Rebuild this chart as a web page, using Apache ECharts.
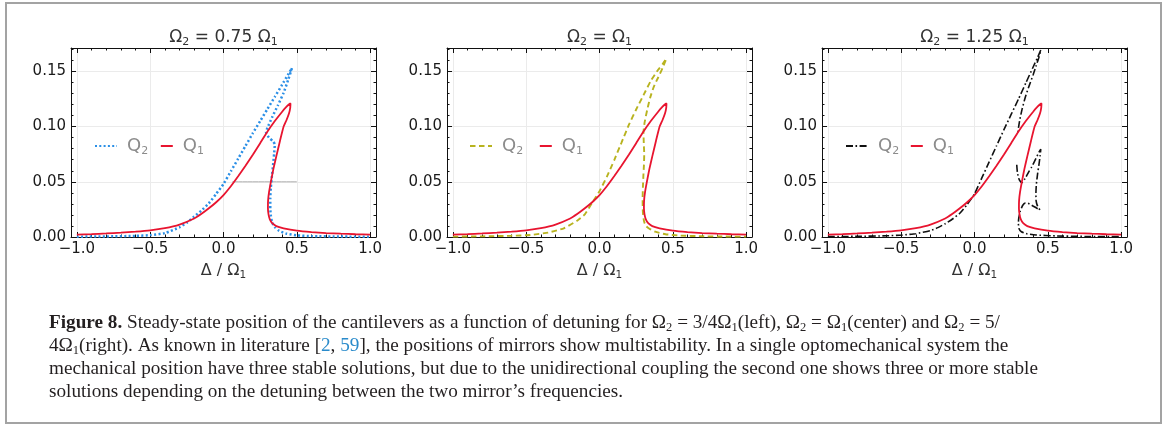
<!DOCTYPE html>
<html><head><meta charset="utf-8">
<script src="https://cdn.jsdelivr.net/npm/echarts@6/dist/echarts.min.js"></script>
<style>html,body{margin:0;padding:0;background:#fff}#c{width:1168px;height:428px}</style>
</head><body><div id="c"></div>
<script>
// ---------- data ----------
const xMajorTicks = [-1, -0.5, 0, 0.5, 1];
const xMinorTicks = [-1, -0.9, -0.8, -0.7, -0.6, -0.5, -0.4, -0.3, -0.2, -0.1, 0, 0.1, 0.2, 0.3, 0.4, 0.5, 0.6, 0.7, 0.8, 0.9, 1];
const yMajorTicks = [0, 0.05, 0.1, 0.15];
const yMinorTicks = [0, 0.01, 0.02, 0.03, 0.04, 0.05, 0.06, 0.07, 0.08, 0.09, 0.1, 0.11, 0.12, 0.13, 0.14, 0.15, 0.16, 0.17];
const panelTitles = ['Ω{s|2} = 0.75 Ω{s|1}', 'Ω{s|2} = Ω{s|1}', 'Ω{s|2} = 1.25 Ω{s|1}'];
const xAxisTitle = 'Δ / Ω{s|1}';

// Q1 (same in every panel)
const q1 = [[-1.0,0.0022],[-0.9,0.0026],[-0.8,0.0032],[-0.7,0.0039],[-0.6,0.0048],[-0.5,0.006],[-0.4,0.008],[-0.3,0.0113],[-0.2,0.0168],[-0.15,0.021],[-0.1,0.026],[-0.05,0.0315],[0.0,0.038],[0.05,0.046],[0.1,0.055],[0.15,0.0645],[0.2,0.0745],[0.25,0.085],[0.3,0.0955],[0.35,0.105],[0.4,0.1135],[0.43,0.118],[0.45,0.1205],[0.457,0.121],[0.455,0.117],[0.447,0.112],[0.43,0.106],[0.41,0.1],[0.385,0.087],[0.36,0.073],[0.34,0.0615],[0.323,0.05],[0.311,0.041],[0.304,0.033],[0.303,0.026],[0.307,0.0205],[0.316,0.016],[0.332,0.0125],[0.36,0.0098],[0.41,0.0079],[0.5,0.0058],[0.6,0.0045],[0.7,0.0036],[0.8,0.003],[0.9,0.0025],[1.0,0.0022]];

// Q2 for Ω2 = 0.75 Ω1
const q2Left = [[-1.0,0.0003],[-0.8,0.0005],[-0.6,0.001],[-0.5,0.0017],[-0.4,0.0035],[-0.3,0.0088],[-0.25,0.013],[-0.2,0.0185],[-0.15,0.024],[-0.1,0.0305],[-0.05,0.039],[0.0,0.048],[0.05,0.0595],[0.1,0.071],[0.15,0.0825],[0.2,0.094],[0.25,0.105],[0.3,0.116],[0.35,0.127],[0.4,0.138],[0.44,0.147],[0.467,0.153],[0.44,0.142],[0.41,0.1306],[0.37,0.119],[0.33,0.108],[0.3,0.099],[0.29,0.095],[0.31,0.09],[0.335,0.087],[0.35,0.084],[0.345,0.075],[0.338,0.065],[0.33,0.055],[0.323,0.045],[0.319,0.035],[0.319,0.026],[0.323,0.019],[0.332,0.013],[0.35,0.009],[0.38,0.0055],[0.43,0.003],[0.5,0.0015],[0.6,0.0008],[0.8,0.0004],[1.0,0.0002]];
const greyMarkLeft = [[0.06,0.05],[0.5,0.05]];

// Q2 for Ω2 = Ω1
const q2Center = [[-1.0,0.0003],[-0.8,0.0006],[-0.6,0.0011],[-0.47,0.0018],[-0.35,0.004],[-0.243,0.0079],[-0.15,0.015],[-0.1,0.0205],[-0.05,0.031],[0.0,0.0415],[0.05,0.0545],[0.1,0.0695],[0.15,0.0855],[0.2,0.1015],[0.25,0.1155],[0.3,0.1285],[0.35,0.1415],[0.4,0.1515],[0.43,0.1565],[0.456,0.1615],[0.43,0.153],[0.4,0.1445],[0.37,0.136],[0.345,0.126],[0.325,0.115],[0.308,0.104],[0.3,0.095],[0.302,0.085],[0.305,0.075],[0.303,0.065],[0.299,0.055],[0.296,0.045],[0.294,0.035],[0.295,0.025],[0.298,0.019],[0.305,0.0135],[0.318,0.0098],[0.34,0.0075],[0.38,0.0048],[0.45,0.0025],[0.55,0.0013],[0.7,0.0007],[0.85,0.0004],[1.0,0.0003]];

// Q2 for Ω2 = 1.25 Ω1 (two pieces)
const q2RightA = [[-1.0,0.0003],[-0.8,0.0006],[-0.6,0.0011],[-0.49,0.0018],[-0.4,0.003],[-0.3,0.0058],[-0.25,0.0085],[-0.2,0.012],[-0.15,0.0163],[-0.1,0.0215],[-0.05,0.0295],[0.0,0.039],[0.05,0.0535],[0.1,0.068],[0.15,0.0825],[0.2,0.097],[0.25,0.111],[0.3,0.125],[0.35,0.1395],[0.4,0.154],[0.43,0.1625],[0.452,0.1694],[0.44,0.163],[0.42,0.155],[0.4,0.147],[0.37,0.136],[0.345,0.126],[0.325,0.116],[0.31,0.107],[0.3,0.099],[0.297,0.094]];
const q2RightB = [[0.288,0.0655],[0.293,0.058],[0.305,0.052],[0.322,0.049],[0.345,0.053],[0.37,0.059],[0.39,0.0635],[0.415,0.07],[0.44,0.077],[0.452,0.0795],[0.448,0.074],[0.44,0.066],[0.43,0.057],[0.422,0.048],[0.419,0.04],[0.42,0.033],[0.43,0.028],[0.446,0.0245],[0.42,0.0265],[0.39,0.0288],[0.365,0.0305],[0.345,0.0307],[0.328,0.0285],[0.312,0.0235],[0.302,0.017],[0.299,0.0125],[0.304,0.0075],[0.32,0.0048],[0.36,0.0028],[0.42,0.0018],[0.55,0.001],[0.75,0.0005],[1.0,0.0003]];

// ---------- layout / style ----------
const X_MIN = -1.04, X_MAX = 1.04, Y_MIN = 0, Y_MAX = 0.1712;
const gridLefts = [71, 447, 822];
const SANS = 'DejaVu Sans';
const SERIF = 'Liberation Serif';
const CAP_SIZE = 19.2;
const RED = '#e8142f', BLUE = '#2b8fe6', OLIVE = '#b8b31f', BLACK = '#111111';
const subRich = (size, color) => ({ s: { fontSize: size, fontFamily: SANS, color: color, verticalAlign: 'bottom', lineHeight: 20 } });
const fmtMinus = v => (v < 0 ? '\u2212' : '') + Math.abs(v).toFixed(1);

const grid = [], xAxis = [], yAxis = [], series = [], legend = [];
const axisCol = '#111';

function addPanel(i) {
  grid.push({ left: gridLefts[i], top: 48, width: 305, height: 189 });
  const cx = { gridIndex: i, type: 'value', min: X_MIN, max: X_MAX, silent: true };
  const cy = { gridIndex: i, type: 'value', min: Y_MIN, max: Y_MAX, silent: true };
  const line = { show: true, onZero: false, lineStyle: { color: axisCol, width: 1 } };
  const noLine = { show: false, onZero: false };
  const major = vals => ({ show: true, inside: true, length: 5, customValues: vals, lineStyle: { color: axisCol, width: 1 } });
  const minor = vals => ({ show: true, inside: true, length: 2.5, customValues: vals, lineStyle: { color: axisCol, width: 1 } });
  // x axes
  xAxis.push(Object.assign({}, cx, {
    position: 'bottom', axisLine: line, axisTick: major(xMajorTicks),
    axisLabel: { show: true, customValues: xMajorTicks, formatter: fmtMinus, margin: 5, fontSize: 15, fontFamily: SANS, color: '#1a1a1a' },
    splitLine: { show: true, lineStyle: { color: '#ebebeb', width: 1 } },
    name: xAxisTitle, nameLocation: 'middle', nameGap: 24, nameMoveOverlap: false,
    nameTextStyle: { fontSize: 16, fontFamily: SANS, color: '#333', lineHeight: 20, rich: subRich(10.5, '#333') }
  }));
  xAxis.push(Object.assign({}, cx, { position: 'bottom', axisLine: noLine, axisTick: minor(xMinorTicks), axisLabel: { show: false }, splitLine: { show: false } }));
  xAxis.push(Object.assign({}, cx, {
    position: 'top', axisLine: line, axisTick: major(xMajorTicks), axisLabel: { show: false }, splitLine: { show: false },
    name: panelTitles[i], nameLocation: 'middle', nameGap: 0, nameMoveOverlap: false,
    nameTextStyle: { fontSize: 17, fontFamily: SANS, color: '#333', lineHeight: 20, rich: subRich(11, '#333') }
  }));
  xAxis.push(Object.assign({}, cx, { position: 'top', axisLine: noLine, axisTick: minor(xMinorTicks), axisLabel: { show: false }, splitLine: { show: false } }));
  // y axes
  yAxis.push(Object.assign({}, cy, {
    position: 'left', axisLine: line, axisTick: major(yMajorTicks),
    axisLabel: { show: true, customValues: yMajorTicks, formatter: v => v.toFixed(2), margin: 5, fontSize: 15, fontFamily: SANS, color: '#1a1a1a' },
    splitLine: { show: true, lineStyle: { color: '#ebebeb', width: 1 } }
  }));
  yAxis.push(Object.assign({}, cy, { position: 'left', axisLine: noLine, axisTick: minor(yMinorTicks), axisLabel: { show: false }, splitLine: { show: false } }));
  yAxis.push(Object.assign({}, cy, { position: 'right', axisLine: line, axisTick: major(yMajorTicks), axisLabel: { show: false }, splitLine: { show: false } }));
  yAxis.push(Object.assign({}, cy, { position: 'right', axisLine: noLine, axisTick: minor(yMinorTicks), axisLabel: { show: false }, splitLine: { show: false } }));
}
[0, 1, 2].forEach(addPanel);

function lineSeries(name, i, data, color, width, type, z) {
  return {
    name: name, type: 'line', xAxisIndex: 4 * i, yAxisIndex: 4 * i, data: data,
    showSymbol: false, symbol: 'none', smooth: 0.15, animation: false, silent: true, z: z || 2,
    lineStyle: { color: color, width: width, type: type, cap: 'butt' }, itemStyle: { color: color },
    emphasis: { disabled: true }
  };
}
const DOT = [2, 2.3], DASH = [5.5, 3.5], DASHDOT = [7, 2.5, 1.6, 2.5];
// panel 1
series.push(lineSeries('grid-mark', 0, greyMarkLeft, '#b0b0b0', 1, 'solid', 1));
series.push(lineSeries('Q2a', 0, q2Left, BLUE, 2.5, DOT, 2));
series.push(lineSeries('Q1a', 0, q1, RED, 1.8, 'solid', 3));
// panel 2
series.push(lineSeries('Q2b', 1, q2Center, OLIVE, 1.9, DASH, 2));
series.push(lineSeries('Q1b', 1, q1, RED, 1.8, 'solid', 3));
// panel 3
series.push(lineSeries('Q2c', 2, q2RightA, BLACK, 1.6, DASHDOT, 2));
series.push(lineSeries('Q2c-2', 2, q2RightB, BLACK, 1.6, DASHDOT, 2));
series.push(lineSeries('Q1c', 2, q1, RED, 1.8, 'solid', 3));

const legendText = { fontSize: 18, fontFamily: SANS, color: '#8c8c8c', lineHeight: 22, padding: [0, 0, 0, 5], rich: { s: { fontSize: 11, fontFamily: SANS, color: '#8c8c8c', verticalAlign: 'bottom', lineHeight: 22 } } };
const hiddenSymbol = { color: 'rgba(0,0,0,0)', borderWidth: 0, opacity: 0 };
const legendPos = [[89, 153], [464, 532], [840, 903]];
const q2Names = ['Q2a', 'Q2b', 'Q2c'], q1Names = ['Q1a', 'Q1b', 'Q1c'];
[0, 1, 2].forEach(i => {
  legend.push({ left: legendPos[i][0], top: 130, itemWidth: 22, itemHeight: 22, selectedMode: false, itemStyle: hiddenSymbol, data: [q2Names[i]], formatter: () => 'Q{s|2}', textStyle: legendText });
  legend.push({ left: legendPos[i][1], top: 130, itemWidth: 12, itemHeight: 22, selectedMode: false, itemStyle: hiddenSymbol, data: [q1Names[i]], formatter: () => 'Q{s|1}', textStyle: legendText });
});

const capRich = {
  b: { fontFamily: SERIF, fontSize: CAP_SIZE, fontWeight: 'bold', fill: '#231f20', lineHeight: 22 },
  s: { fontFamily: SERIF, fontSize: 12.5, fill: '#231f20', verticalAlign: 'bottom', lineHeight: 22 },
  l: { fontFamily: SERIF, fontSize: CAP_SIZE, fill: '#2a8bcb', lineHeight: 22 }
};
const captionLines = [
  '{b|Figure 8.} Steady-state position of the cantilevers as a function of detuning for Ω{s|2} = 3/4Ω{s|1}(left), Ω{s|2} = Ω{s|1}(center) and Ω{s|2} = 5/',
  '4Ω{s|1}(right). As known in literature [{l|2}, {l|59}], the positions of mirrors show multistability. In a single optomechanical system the',
  'mechanical position have three stable solutions, but due to the unidirectional coupling the second one shows three or more stable',
  'solutions depending on the detuning between the two mirror\u2019s frequencies.'
];
const captionY = [323, 346, 369, 392];
const graphic = [{ type: 'rect', silent: true, z: 0, shape: { x: 6, y: 3, width: 1155, height: 420 }, style: { fill: 'none', stroke: '#a3a3a3', lineWidth: 2 } }];
captionLines.forEach((t, k) => graphic.push({
  type: 'text', silent: true, x: 49, y: captionY[k],
  style: { text: t, fontFamily: SERIF, fontSize: CAP_SIZE, fill: '#231f20', lineHeight: 22, verticalAlign: 'middle', align: 'left', rich: capRich }
}));

const chart = echarts.init(document.getElementById('c'), null, { renderer: 'canvas' });
chart.setOption({ backgroundColor: '#ffffff', animation: false, grid, xAxis, yAxis, series, legend, graphic, tooltip: { show: false } });
</script></body></html>
